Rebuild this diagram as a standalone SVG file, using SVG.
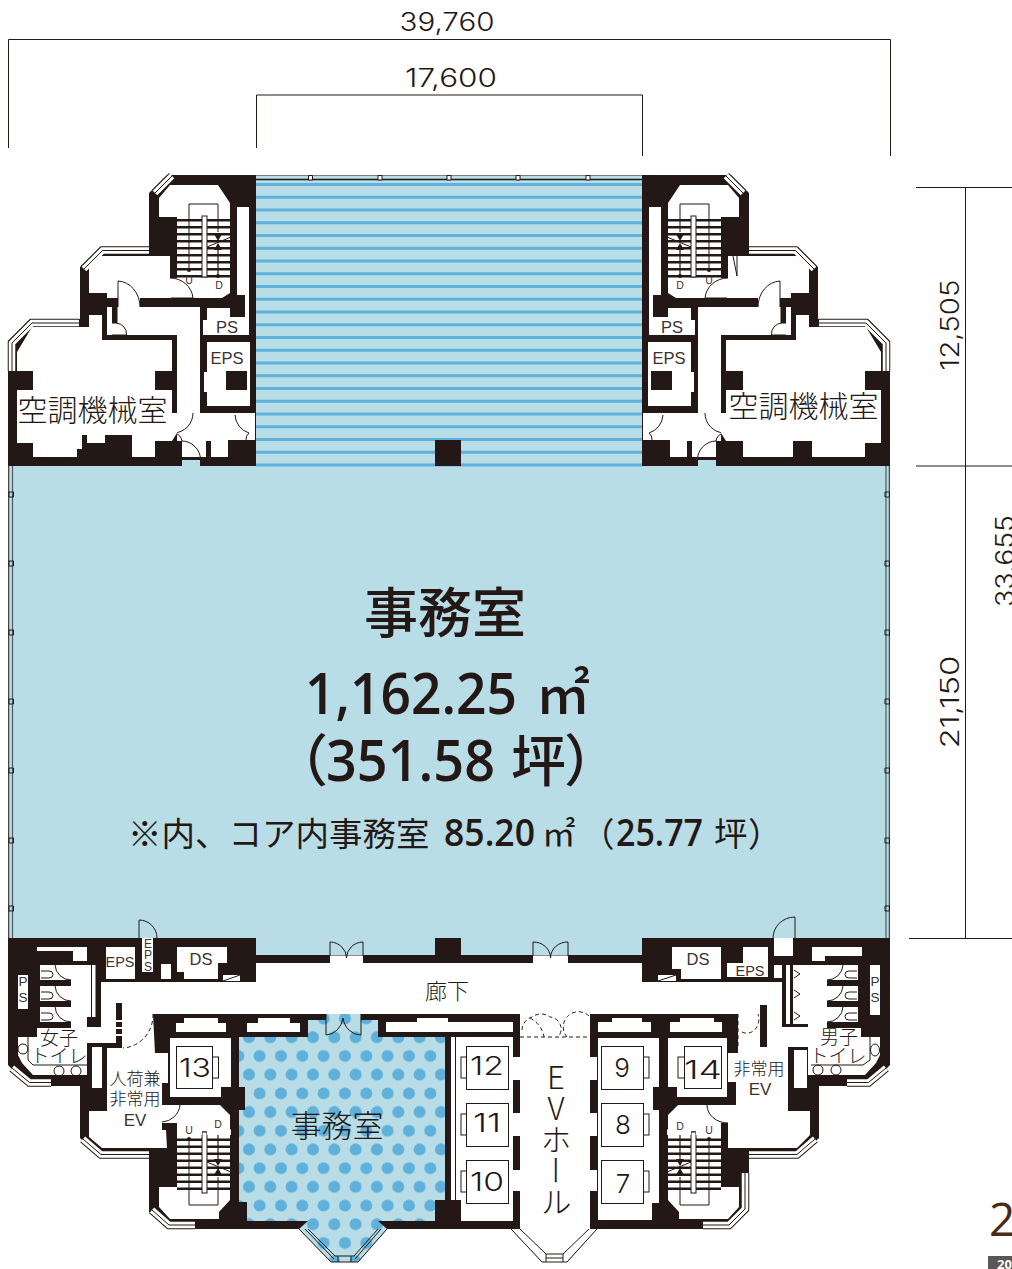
<svg xmlns="http://www.w3.org/2000/svg" xmlns:xlink="http://www.w3.org/1999/xlink" width="1012" height="1269" viewBox="0 0 1012 1269">
<style>
.k{fill:#231815}
.w{fill:#fff}
.b{fill:#b8dde6}
.ln{fill:none;stroke:#231815;stroke-width:1}
.ds{fill:none;stroke:#231815;stroke-width:1;stroke-dasharray:4 3}
.win1{fill:none;stroke:#231815;stroke-width:8.5}
.win2{fill:none;stroke:#fff;stroke-width:6.5}
.win3{fill:none;stroke:#231815;stroke-width:1}
.dim{fill:none;stroke:#231815;stroke-width:1}
.t{font-family:"Noto Sans CJK JP","Noto Sans",sans-serif;font-weight:300;fill:#231815;text-anchor:middle}
.n{font-family:"Inter","Liberation Sans",sans-serif;font-weight:300;fill:#231815;text-anchor:middle}
.s{font-family:"Liberation Sans",sans-serif;fill:#3a3230;text-anchor:middle}
.big{font-family:"Noto Sans CJK JP",sans-serif;font-weight:500;fill:#231815}
.num{font-family:"Open Sans",sans-serif;font-weight:600}
</style>
<defs>
<pattern id="dots" patternUnits="userSpaceOnUse" x="249" y="1046.65" width="21.33" height="37.4">
<rect width="21.33" height="37.4" fill="#b8dde6"/>
<circle cx="10.67" cy="9.35" r="6" fill="#5fb0da"/>
<circle cx="0" cy="28" r="6" fill="#5fb0da"/>
<circle cx="21.33" cy="28" r="6" fill="#5fb0da"/>
</pattern>
<g id="stair">
<path class="k" d="M177 219h54v2.500h-54zM177 226h54v2.500h-54zM177 233h54v2.500h-54zM177 240h54v2.500h-54zM177 247h54v2.500h-54zM177 254h54v2.500h-54zM177 261h54v2.500h-54zM177 268h54v2.500h-54zM177 275h54v2.500h-54z"/>
<rect x="202" y="216" width="5" height="61" fill="#fff" stroke="#231815" stroke-width="1"/>
<path class="ln" d="M189 270V204H218V232"/>
<path class="ln" d="M207 247L231 237"/>
<path d="M218 276V245" fill="none" stroke="#231815" stroke-width="1.200"/>
<path class="k" d="M214 234L222 234L218 241ZM214 250L222 250L218 243Z"/>
<circle class="k" cx="189" cy="270" r="2"/><circle class="k" cx="218" cy="276" r="2"/>
</g>
<g id="wingCommon">
<polygon class="k" points="256,175 167,175 149,193 149,247 100,247 80,267 80,319 30,319 8,341 8,466 256,466"/>
<polyline class="win1" points="155,193 172,176"/><polyline class="win2" points="155,193 172,176"/><polyline class="win3" points="155,193 172,176"/>
<polyline class="win1" points="149,250.500 102.500,250.500 84,269"/><polyline class="win2" points="149,250.500 102.500,250.500 84,269"/><polyline class="win3" points="149,250.500 102.500,250.500 84,269"/>
<polyline class="win1" points="79,323 32,323 12,343 12,371"/><polyline class="win2" points="79,323 32,323 12,343 12,371"/><polyline class="win3" points="79,323 32,323 12,343 12,371"/>
<polygon class="w" points="170,185 218,185 230,203 230,293 222,298 140,298 140,307 200,307 200,413 255,413 255,440 228,440 228,457 211,457 211,441 206,441 206,457 182,457 182,441 177,441 177,335 107,335 107,307 118,307 118,298 107,298 107,293 89,293 89,267 101,256 170,256 170,278 177,278 177,217 159,217 159,198"/>
<rect class="k" x="112" y="307" width="5.500" height="16"/>
<polygon class="w" points="237,207 249,207 249,317 245,317 245,295 237,295"/>
<polygon class="w" points="207,308 230,308 230,317 249,317 249,335 203,335 203,320 207,320"/>
<polygon class="w" points="207,342 250,342 250,406 207,406 207,392 204,392 204,372 207,372"/>
<rect class="k" x="226" y="371" width="21" height="19"/>
<use xlink:href="#stair" href="#stair"/>
<rect class="b" x="182" y="460" width="18" height="6"/>
<path class="ln" d="M170 278A23 22 0 0 1 193 298H171"/>
<path class="ln" d="M118 307V281A23 26 0 0 1 140 307"/>
<path class="ln" d="M112 323H116A11 11 0 0 1 126.500 335H112"/>
<path class="ln" d="M193 413A20 20 0 0 1 174 433A9 9 0 0 1 182 441"/>
<path class="ln" d="M182 441A19 19 0 0 1 200.500 459"/>
<path class="ln" d="M235 415A20 20 0 0 0 249 433A8 8 0 0 0 246 440"/>
</g>
<g id="stalls">
<g id="stallOne">
<path class="k" d="M37 965h3v16h-3z"/>
<rect class="k" x="37" y="980" width="34" height="6"/>
<path class="ln" d="M41 971h8a4 3.500 0 0 1 0 7h-8M55 965A16 16 0 0 0 71 980"/>
</g>
<use xlink:href="#stallOne" href="#stallOne" y="21"/>
<use xlink:href="#stallOne" href="#stallOne" y="42"/>
</g>
</defs>

<g id="dimensions">
<path class="dim" d="M8.500 148V39.500H890.500V156M256.500 148V95H642.500V156"/>
<path class="dim" d="M916 187.500H1012M965.500 187.500V938.500"/>
<path class="dim" stroke-width="1.500" d="M916 466H1012M909 938.500H1012"/>
<text class="n" x="447" y="31" font-size="25" textLength="95" lengthAdjust="spacingAndGlyphs">39,760</text>
<text class="n" x="451" y="87" font-size="25" textLength="92" lengthAdjust="spacingAndGlyphs">17,600</text>
<text class="n" transform="translate(959 325) rotate(-90)" font-size="25" textLength="91" lengthAdjust="spacingAndGlyphs">12,505</text>
<text class="n" transform="translate(959 702) rotate(-90)" font-size="25" textLength="93" lengthAdjust="spacingAndGlyphs">21,150</text>
<text class="n" transform="translate(1014 561) rotate(-90)" font-size="25" textLength="92" lengthAdjust="spacingAndGlyphs">33,655</text>
</g>

<g id="office-main">
<rect class="b" x="9" y="466" width="880" height="473"/>
<rect class="b" x="256" y="938" width="386" height="18"/>
<path class="ln" stroke-width="1.500" d="M8.700 466V938M889.300 466V938"/>
<path d="M12.500 466V938M886 466V938" fill="none" stroke="#4c5a60" stroke-width="1.200"/>
<path class="ln" d="M9 492h4.500v5H9zM9 561h4.500v5H9zM9 630h4.500v5H9zM9 699h4.500v5H9zM9 768h4.500v5H9zM9 838h4.500v5H9zM9 906h4.500v5H9zM885 492h4.500v5H885zM885 561h4.500v5H885zM885 630h4.500v5H885zM885 699h4.500v5H885zM885 768h4.500v5H885zM885 838h4.500v5H885zM885 906h4.500v5H885z"/>
</g>

<g id="balcony">
<rect class="b" x="256" y="175" width="386" height="291"/>
<path stroke="#5fb0da" stroke-width="3" fill="none" d="M256 184.500H642M256 197.300H642M256 210H642M256 222.800H642M256 235.500H642M256 248.300H642M256 261H642M256 273.800H642M256 286.500H642M256 299.300H642M256 312H642M256 324.800H642M256 337.500H642M256 350.300H642M256 363H642M256 375.800H642M256 388.500H642M256 401.300H642M256 414H642M256 426.800H642M256 439.500H642M256 452.300H642M256 465H642"/>
<path stroke="#231815" stroke-width="1.600" fill="none" d="M256 179.500H642"/>
<path stroke="#7d7d7d" stroke-width="1" fill="none" d="M256 175.500H642"/>
<path d="M308.500 175.500h4v4.500h-4zM378 175.500h4v4.500h-4zM447 175.500h4v4.500h-4zM516 175.500h4v4.500h-4zM586 175.500h4v4.500h-4z" fill="#fff" stroke="#231815" stroke-width="1"/>
<rect class="k" x="435" y="440" width="26" height="26"/>
</g>

<g id="wing-top-left">
<use xlink:href="#wingCommon" href="#wingCommon"/>
<polygon class="w" points="17,352 32,327 89,327 89,315 102,315 102,340 172,340 172,371 155,371 155,390 172,390 172,413 177,413 177,433 172,441 155,441 155,457 132,457 132,435 105,435 105,443 87,443 87,435 82,435 82,449 77,449 77,457 33,457 33,443 17,443 17,390 33,390 33,371 17,371"/>
</g>
<g id="wing-top-right" transform="translate(898 0) scale(-1 1)">
<use xlink:href="#wingCommon" href="#wingCommon"/>
<polygon class="w" points="17,352 32,327 89,327 89,315 102,315 102,340 172,340 172,371 155,371 155,390 172,390 172,413 177,413 177,433 172,441 155,441 155,457 105,457 105,441 86,441 86,457 33,457 33,443 17,443 17,390 33,390 33,371 17,371"/>
<path class="ln" d="M165 256L161 276M161 256V276"/>
</g>

<g id="core-bottom">
<polygon class="k" points="8,938 256,938 256,955 435,955 435,938 461,938 461,955 642,955 642,938 890,938 890,1065 870,1086 819,1086 819,1138 798,1158 749,1158 749,1210 730,1229 597,1229 567,1262 542,1262 511,1229 387,1229 358,1262 331,1262 299,1229 168,1229 149,1212 149,1158 100,1158 80,1138 80,1086 28,1086 8,1065"/>
<polygon class="w" points="101,982 256,982 256,963 330,963 330,955.500 363,955.500 363,963 533,963 533,955.500 568,955.500 568,963 642,963 642,982 782,982 782,1014 767,1014 767,1047 738,1047 738,1014 153,1014 153,1053 116,1053 116,1043 101,1043"/>
<polygon class="w" points="37,965 91,965 91,1017 87,1017 87,1027 116,1027 116,1043 87,1043 87,1075 33,1075 22,1063 18,1055 18,1037 37,1037"/>
<rect class="k" x="91" y="965" width="10" height="62"/>
<rect class="w" x="92" y="965" width="3.500" height="52"/>
<rect class="k" x="87" y="1017" width="14" height="10"/>
<polygon class="w" points="122,1014 153,1014 155,1053 168,1053 168,1083 162,1083 162,1105 180,1105 220,1105 230,1115 230,1200 219,1212 219,1219 170,1219 159,1207 159,1187 177,1187 177,1123 162,1123 162,1148 102,1148 89,1137 89,1111 107,1111 107,1048 122,1048"/>
<rect class="w" x="92" y="1047" width="10" height="41"/>
<rect class="k" x="116" y="1003" width="6" height="45"/>
<path stroke="#fff" stroke-width="2" fill="none" d="M116 1021h6M116 1028h6M116 1035h6"/>
<polygon class="w" points="793,965 861,965 861,1037 880,1037 880,1055 876,1063 865,1075 808,1075 808,1047 767,1047 767,1014 782,1014 782,1027 808,1027 808,1024 793,1024"/>
<rect class="w" x="786" y="965" width="4" height="59"/>
<polygon class="w" points="738,1014 738,1053 728,1053 728,1082 736,1082 736,1105 678,1105 668,1115 668,1200 679,1212 679,1219 728,1219 739,1207 739,1187 721,1187 721,1123 728,1123 728,1148 797,1148 810,1135 810,1111 788,1111 788,1047 760,1047 760,1014"/>
<rect class="w" x="794" y="1050" width="13" height="38"/>
<rect class="k" x="760" y="1005" width="7" height="42"/>
</g>

<g id="core-windows">
<polyline class="win1" points="12,1068 29.500,1082.500 51,1082.500"/><polyline class="win2" points="12,1068 29.500,1082.500 51,1082.500"/><polyline class="win3" points="12,1068 29.500,1082.500 51,1082.500"/>
<polyline class="win1" points="83,1139 101,1154.500 149,1154.500"/><polyline class="win2" points="83,1139 101,1154.500 149,1154.500"/><polyline class="win3" points="83,1139 101,1154.500 149,1154.500"/>
<polyline class="win1" points="152,1210 169,1225 195,1225"/><polyline class="win2" points="152,1210 169,1225 195,1225"/><polyline class="win3" points="152,1210 169,1225 195,1225"/>
<polyline class="win1" points="886,1068 868.500,1082.500 847,1082.500"/><polyline class="win2" points="886,1068 868.500,1082.500 847,1082.500"/><polyline class="win3" points="886,1068 868.500,1082.500 847,1082.500"/>
<polyline class="win1" points="815,1139 797,1154.500 749,1154.500"/><polyline class="win2" points="815,1139 797,1154.500 749,1154.500"/><polyline class="win3" points="815,1139 797,1154.500 749,1154.500"/>
<polyline class="win1" points="745,1173 745,1209 729,1225 703,1225"/><polyline class="win2" points="745,1173 745,1209 729,1225 703,1225"/><polyline class="win3" points="745,1173 745,1209 729,1225 703,1225"/>
</g>

<g id="service-rooms">
<polygon class="w" points="37,947 87,947 87,961 73,961 73,951 37,951"/>
<rect class="w" x="18" y="975" width="10" height="34"/>
<rect class="w" x="106" y="947" width="29" height="32"/>
<rect class="w" x="142" y="938" width="11" height="34"/>
<path class="ln" d="M139 938V920A18 18 0 0 1 157 938"/>
<rect class="w" x="161" y="964" width="10" height="15"/>
<polygon class="w" points="177,947 227,947 227,963 218,963 218,979 184,979 184,972 177,972"/>
<rect class="w" x="223" y="975" width="17" height="6"/>
<path class="ln" d="M223 981L240 975"/>
<polygon class="w" points="176,1023 184,1023 184,1018 218,1018 218,1023 226,1023 226,1032 176,1032"/>
<polygon class="w" points="247,1023 258,1023 258,1018 290,1018 290,1023 300,1023 300,1032 247,1032"/>
<polygon class="w" points="386,1022 417,1022 417,1018 448,1018 448,1022 513,1022 513,1032 386,1032"/>
<polygon class="w" points="598,1022 612,1022 612,1018 642,1018 642,1022 651,1022 651,1032 598,1032"/>
<polygon class="w" points="670,1022 680,1022 680,1018 714,1018 714,1022 722,1022 722,1032 670,1032"/>
<polygon class="w" points="672,947 721,947 721,979 681,979 681,969 672,969"/>
<rect class="w" x="658" y="975" width="18" height="6"/>
<path class="ln" d="M658 981L676 975"/>
<polygon class="w" points="743,947 768,947 768,977 727,977 727,963 743,963"/>
<rect class="w" x="774" y="965" width="8" height="13"/>
<rect class="w" x="774" y="938" width="19" height="18"/>
<path class="ln" d="M795 938V917A22 21 0 0 0 773 938"/>
<polygon class="w" points="812,947 862,947 862,956 825,956 825,961 812,961"/>
<rect class="w" x="870" y="965" width="10" height="50"/>
</g>

<g id="toilets">
<use xlink:href="#stalls" href="#stalls"/>
<use xlink:href="#stalls" href="#stalls" transform="translate(898 0) scale(-1 1)"/>
<path class="ln" d="M28 1037V1060L33 1065H87"/>
<circle class="ln" cx="23" cy="1049" r="5"/><circle class="ln" cx="59" cy="1071" r="5"/><circle class="ln" cx="76" cy="1071" r="5"/>
<path class="ln" d="M870 1037V1060L863 1065H811"/>
<ellipse class="ln" cx="875" cy="1050" rx="4.500" ry="6"/><circle class="ln" cx="818" cy="1070" r="5"/><circle class="ln" cx="836" cy="1070" r="5"/>
<path class="ln" d="M794 970L800 974L794 978M794 990L800 994L794 998M794 1012L800 1016L794 1020"/>
</g>

<g id="stairs-bottom">
<use xlink:href="#stair" href="#stair" transform="translate(0 1409) scale(1 -1)"/>
<use xlink:href="#stair" href="#stair" transform="translate(898 1409) scale(-1 -1)"/>
<path class="w" d="M177 1129.500H202V1135H177ZM207 1129.500H231V1135H207ZM667 1129.500H691V1135H667ZM696 1129.500H721V1135H696Z"/>
<path class="ln" d="M162 1122A19 19 0 0 0 180 1105"/>
<path class="ln" d="M707 1105A21 18 0 0 0 728 1123"/>
<path class="w" d="M162 1130H166L167 1148H162Z"/>
</g>

<g id="office-small">
<polygon fill="url(#dots)" points="239,1037 308,1037 308,1020 326,1020 326,1014 361,1014 361,1020 378,1020 378,1037 445,1037 445,1200 435,1200 435,1221 378,1221 387,1229 358,1262 331,1262 299,1229 308,1221 247,1221 247,1202 239,1202 239,1110 245,1110 245,1087 239,1087"/>
<polyline class="ln" points="299,1229 331,1262 358,1262 387,1229"/>
<polyline class="ln" points="308,1229 335,1256 354,1256 378,1229"/>
<path class="ln" d="M305 1229L334 1259M381 1229L355 1259"/>
<path class="ln" d="M326 1014V1035A18 20 0 0 0 343 1018A18 20 0 0 0 361 1035V1014"/>
<path class="ln" d="M338 1256V1262M351 1256V1262"/>
</g>

<g id="doors-corridor">
<path class="ln" d="M330 956V942A17 16 0 0 1 346.500 958A17 16 0 0 1 363 942V956"/>
<path class="ln" d="M533 956V942A17 16 0 0 1 550.500 958A17 16 0 0 1 568 942V956"/>
<path class="ds" d="M153 1014A32 33 0 0 1 123 1048"/>
<path class="ds" d="M738 1014V1047M742 1032A12 14 0 0 0 758 1014"/>
</g>

<g id="ev-hall">
<polygon class="w" points="520,1014 590,1014 590,1057 597,1057 597,1080 590,1080 590,1113 597,1113 597,1136 590,1136 590,1170 597,1170 597,1191 590,1191 590,1229 597,1229 567,1262 542,1262 511,1229 520,1229 520,1191 513,1191 513,1170 520,1170 520,1136 513,1136 513,1113 520,1113 520,1080 513,1080 513,1057 520,1057"/>
<polyline class="ln" points="511,1229 542,1262 567,1262 597,1229"/>
<polyline class="ln" points="520,1229 546,1254 563,1254 589,1229"/>
<path class="ln" d="M546 1254V1262M563 1254V1262M546 1258H563"/>
<path class="ds" d="M520 1037H590M522 1030A14 14 0 0 1 532 1017A15 15 0 0 1 550 1017A12 12 0 0 1 558 1037M567 1037A14 14 0 0 1 590 1017"/>
<path class="ds" d="M530 1018A26 26 0 0 1 544 1037"/>
</g>

<g id="elevators">
<rect class="w" x="451" y="1037" width="4" height="163"/>
<rect class="w" x="456" y="1037" width="57" height="184"/>
<rect class="k" x="435" y="1200" width="26" height="21"/>
<g class="ln">
<rect x="466.500" y="1046.500" width="42" height="43"/><rect x="461" y="1057" width="5.500" height="21"/>
<rect x="466.500" y="1103.500" width="42" height="43"/><rect x="461" y="1114" width="5.500" height="21"/>
<rect x="466.500" y="1160.500" width="42" height="43"/><rect x="461" y="1171" width="5.500" height="21"/>
</g>
<polygon class="w" points="598,1038 659,1038 659,1087 653,1087 653,1110 659,1110 659,1203 652,1203 652,1220 598,1220"/>
<g class="ln">
<rect x="601.500" y="1046.500" width="42" height="43"/><rect x="643.500" y="1057" width="5.500" height="21"/>
<rect x="601.500" y="1103.500" width="42" height="43"/><rect x="643.500" y="1114" width="5.500" height="21"/>
<rect x="601.500" y="1160.500" width="42" height="43"/><rect x="643.500" y="1171" width="5.500" height="21"/>
</g>
<polygon class="w" points="668,1038 727,1038 727,1097 677,1097 677,1087 668,1087"/>
<g class="ln"><rect x="684.500" y="1046.500" width="37" height="42"/><rect x="678" y="1057" width="6.500" height="21"/></g>
<polygon class="w" points="170,1038 231,1038 231,1087 221,1087 221,1097 170,1097"/>
<g class="ln"><rect x="176.500" y="1046.500" width="36" height="42"/><rect x="212.500" y="1057" width="6" height="21"/></g>
</g>

<g id="labels">
<text class="t" x="92.500" y="421" font-size="30">空調機械室</text>
<text class="t" x="803.500" y="417" font-size="30">空調機械室</text>
<text class="s" x="227" y="333" font-size="16.500">PS</text>
<text class="s" x="227" y="364" font-size="16.500">EPS</text>
<text class="s" x="672" y="333" font-size="16.500">PS</text>
<text class="s" x="669" y="364" font-size="16.500">EPS</text>
<text class="s" x="189" y="284" font-size="10.500">U</text>
<text class="s" x="219" y="289" font-size="10.500">D</text>
<text class="s" x="680" y="289" font-size="10.500">D</text>
<text class="s" x="709" y="284" font-size="10.500">U</text>
<text class="s" x="120" y="967" font-size="15" textLength="29" lengthAdjust="spacingAndGlyphs">EPS</text>
<text class="s" x="148" y="948" font-size="12">E</text><text class="s" x="148" y="959" font-size="12">P</text><text class="s" x="148" y="971" font-size="12">S</text>
<text class="s" x="201" y="965" font-size="16.500">DS</text>
<text class="s" x="698" y="965" font-size="16.500">DS</text>
<text class="s" x="750" y="976" font-size="15" textLength="29" lengthAdjust="spacingAndGlyphs">EPS</text>
<text class="s" x="23" y="986" font-size="13.500">P</text><text class="s" x="23" y="1002" font-size="13.500">S</text>
<text class="s" x="875" y="986" font-size="13.500">P</text><text class="s" x="875" y="1002" font-size="13.500">S</text>
<text class="t" x="59" y="1045" font-size="19">女子</text>
<text class="t" x="59" y="1063" font-size="19">トイレ</text>
<text class="t" x="839" y="1044" font-size="19">男子</text>
<text class="t" x="838" y="1063" font-size="19">トイレ</text>
<text class="t" x="135" y="1085" font-size="17">人荷兼</text>
<text class="t" x="135" y="1105" font-size="17">非常用</text>
<text class="s" x="135" y="1126" font-size="17">EV</text>
<text class="t" x="759" y="1075" font-size="17">非常用</text>
<text class="s" x="760" y="1095" font-size="17">EV</text>
<text class="s" x="189" y="1134" font-size="10.500">U</text>
<text class="s" x="218" y="1128" font-size="10.500">D</text>
<text class="s" x="680" y="1130" font-size="10.500">D</text>
<text class="s" x="709" y="1134" font-size="10.500">U</text>
<text class="t" x="447" y="999" font-size="22">廊下</text>
<text class="t" x="337" y="1137" font-size="31">事務室</text>
<text class="n" x="195" y="1077" font-size="26" textLength="32" lengthAdjust="spacingAndGlyphs">13</text>
<text class="n" x="703" y="1079" font-size="26" textLength="38" lengthAdjust="spacingAndGlyphs">14</text>
<text class="n" x="487" y="1075" font-size="26" textLength="34" lengthAdjust="spacingAndGlyphs">12</text>
<text class="n" x="487" y="1132" font-size="26" textLength="28" lengthAdjust="spacingAndGlyphs">11</text>
<text class="n" x="487" y="1191" font-size="26" textLength="34" lengthAdjust="spacingAndGlyphs">10</text>
<text class="n" x="622" y="1077" font-size="26">9</text>
<text class="n" x="623" y="1134" font-size="26">8</text>
<text class="n" x="623" y="1193" font-size="26">7</text>
<text class="t" x="556" y="1062" font-size="31" style="writing-mode:vertical-rl;text-orientation:upright;text-anchor:start">EVホール</text>
<text class="big" x="445" y="633" font-size="54" text-anchor="middle">事務室</text>
<text class="big" y="714" font-size="57"><tspan class="num" x="305" textLength="212" lengthAdjust="spacingAndGlyphs">1,162.25</tspan><tspan x="536" font-size="54">㎡</tspan></text>
<text class="big" y="781" font-size="56"><tspan x="272">（</tspan><tspan class="num" x="326" font-size="57" textLength="169" lengthAdjust="spacingAndGlyphs">351.58</tspan><tspan x="511" font-size="55">坪</tspan><tspan x="564">）</tspan></text>
<text class="big" y="846" font-size="33.500" style="font-weight:400"><tspan x="128">※内、コア内事務室</tspan><tspan class="num" x="444" font-size="37" textLength="91" lengthAdjust="spacingAndGlyphs">85.20</tspan><tspan x="542">㎡</tspan><tspan x="581">（</tspan><tspan class="num" x="616" font-size="37" textLength="87" lengthAdjust="spacingAndGlyphs">25.77</tspan><tspan x="714">坪</tspan><tspan x="748">）</tspan></text>
</g>

<g id="page-marks">
<text x="989" y="1236" font-family="Open Sans,sans-serif" font-size="46" fill="#4a2b17">2</text>
<rect x="988" y="1256" width="24" height="13" fill="#595757"/>
<text x="997" y="1269" font-family="Open Sans,sans-serif" font-size="13" font-weight="700" fill="#fff">20</text>
</g>
</svg>
